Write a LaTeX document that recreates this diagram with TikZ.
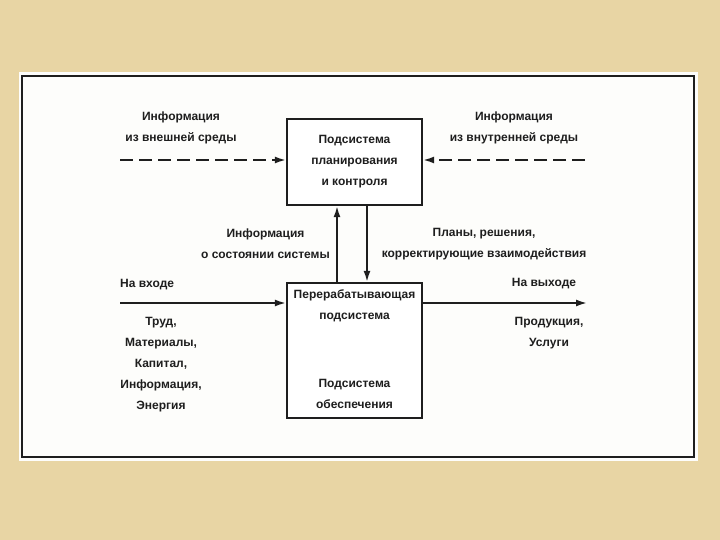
\documentclass[tikz,border=0pt]{standalone}
\usepackage{fontspec}
\setmainfont{Liberation Sans}
\usetikzlibrary{positioning,arrows.meta}
\definecolor{SchemeSand}{HTML}{E8D5A4}
\definecolor{SchemeInk}{HTML}{1E1E1E}
\definecolor{SchemePaper}{HTML}{FDFDFB}

\begin{document}
\begin{tikzpicture}[x=1pt,y=-1pt,
  block/.style={draw=SchemeInk,line width=2.2pt,fill=white,minimum width=135pt,inner sep=0pt},
  lbl/.style={font=\bfseries\fontsize{12}{21}\selectfont,align=center,text=SchemeInk,inner sep=1pt},
  flow/.style={draw=SchemeInk,line width=1.8pt,-{Latex[length=11pt,width=7pt]}},
  info/.style={flow,dash pattern=on 13pt off 6pt}
]
\useasboundingbox (0,0) rectangle (720,540);
\fill[SchemeSand] (0,0) rectangle (720,540);
% white sheet with its frame
\fill[SchemePaper] (19,72) rectangle (698,461);
\draw[SchemeInk,line width=2.4pt] (22,76) rectangle (694,457);

% subsystems
\node[block,minimum height=86pt] (plan) at (354.5,162) {};
\node[lbl] (plantxt) at (plan) {Подсистема\\планирования\\и контроля};
\node[block,minimum height=135pt] (proc) at (354.5,350.5) {};
\node[lbl,below=7pt of proc.north] (proctxt) {Перерабатывающая\\подсистема};
\node[lbl,above=9pt of proc.south] (supptxt) {Подсистема\\обеспечения};

% labels
\node[lbl] (extinfo) at (181,128) {Информация\\из внешней среды};
\node[lbl] (intinfo) at (514,128) {Информация\\из внутренней среды};
\node[lbl,anchor=east] (stateinfo) at (331,244) {Информация\\о состоянии системы};
\node[lbl] (plans) at (484,244) {Планы, решения,\\корректирующие взаимодействия};
\node[lbl,anchor=west] (inlbl) at (119,285) {На входе};
\node[lbl] (outlbl) at (544,284) {На выходе};
\node[lbl] (resources) at (161,365) {Труд,\\Материалы,\\Капитал,\\Информация,\\Энергия};
\node[lbl] (products) at (549,333) {Продукция,\\Услуги};

% free ends
\coordinate (extin) at (120,160);
\coordinate (intin) at (585,160);
\coordinate (inL) at (120,303);
\coordinate (outR) at (587,303);

% connectors
\draw[info] (extin) -- (extin -| plan.west);
\draw[info] (intin) -- (intin -| plan.east);
\draw[flow] ([xshift=-17.5pt]proc.north) -- ([xshift=-17.5pt]plan.south);
\draw[flow] ([xshift=12.5pt]plan.south) -- ([xshift=12.5pt]proc.north);
\draw[flow] (inL) -- (inL -| proc.west);
\draw[flow] (inL -| proc.east) -- (outR);
\end{tikzpicture}
\end{document}
